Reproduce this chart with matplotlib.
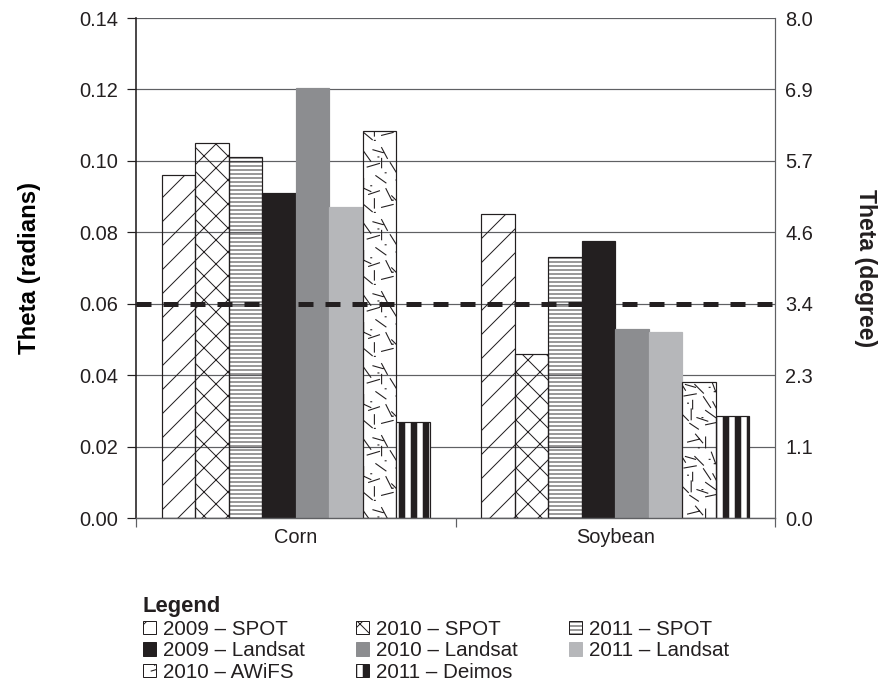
import warnings
import numpy as np
import matplotlib
matplotlib.use("Agg")
import matplotlib.pyplot as plt
import matplotlib.hatch as mhatch
from matplotlib.path import Path
from matplotlib.ticker import FixedLocator, FormatStrFormatter

warnings.filterwarnings("ignore", category=matplotlib.MatplotlibDeprecationWarning)

# ---------------------------------------------------------------- data
crops = ["Corn", "Soybean"]
series = ["2009 – SPOT", "2010 – SPOT", "2011 – SPOT",
          "2009 – Landsat", "2010 – Landsat", "2011 – Landsat",
          "2010 – AWiFS", "2011 – Deimos"]
spot_2009 = [0.096, 0.085]
spot_2010 = [0.105, 0.046]
spot_2011 = [0.101, 0.073]
landsat_2009 = [0.091, 0.0775]
landsat_2010 = [0.1205, 0.053]
landsat_2011 = [0.087, 0.052]
awifs_2010 = [0.1085, 0.038]
deimos_2011 = [0.027, 0.0285]
threshold = 0.06
radian_ticks = [0.00, 0.02, 0.04, 0.06, 0.08, 0.10, 0.12, 0.14]

values = [spot_2009, spot_2010, spot_2011, landsat_2009,
          landsat_2010, landsat_2011, awifs_2010, deimos_2011]


# ------------------------------------------- speckled texture as a hatch
# short strokes (x, y, dx, dy) inside one hatch tile, plus a few dots
SPECKLE_STROKES = [
    (0.05, 0.90, 0.10, -0.14), (0.30, 0.95, 0.08, -0.15),
    (0.55, 0.86, 0.16, 0.04), (0.80, 0.93, 0.00, -0.15),
    (0.10, 0.68, 0.17, 0.05), (0.42, 0.74, 0.10, -0.16),
    (0.65, 0.66, 0.12, -0.12), (0.88, 0.72, 0.06, -0.16),
    (0.05, 0.52, 0.00, -0.14), (0.22, 0.56, 0.14, -0.10),
    (0.50, 0.50, 0.17, 0.03), (0.77, 0.49, 0.10, -0.15),
    (0.12, 0.30, 0.15, 0.05), (0.36, 0.38, 0.08, -0.16),
    (0.60, 0.32, 0.00, -0.15), (0.80, 0.30, 0.14, -0.10),
    (0.05, 0.16, 0.12, -0.10), (0.30, 0.12, 0.16, 0.04),
    (0.58, 0.12, 0.12, -0.08), (0.80, 0.10, 0.14, 0.03),
    (0.18, 0.92, 0.14, -0.04), (0.66, 0.97, 0.10, -0.12),
    (0.30, 0.80, 0.00, -0.13), (0.52, 0.66, 0.14, -0.04),
    (0.02, 0.40, 0.13, -0.06), (0.62, 0.44, 0.00, -0.12),
    (0.44, 0.28, 0.12, -0.12), (0.90, 0.42, 0.07, -0.13),
    (0.20, 0.24, 0.00, -0.13), (0.68, 0.20, 0.15, -0.05),
    (0.25, 0.82, 0.012, 0.0), (0.70, 0.78, 0.012, 0.0),
    (0.35, 0.60, 0.012, 0.0), (0.92, 0.56, 0.012, 0.0),
    (0.15, 0.42, 0.012, 0.0), (0.55, 0.40, 0.012, 0.0),
    (0.45, 0.22, 0.012, 0.0), (0.75, 0.20, 0.012, 0.0),
    (0.20, 0.05, 0.012, 0.0), (0.85, 0.62, 0.012, 0.0),
]


class SpeckleHatch(mhatch.HatchPatternBase):
    def __init__(self, hatch, density):
        self.num_vertices = 2 * len(SPECKLE_STROKES) if 'r' in hatch else 0

    def set_vertices_and_codes(self, vertices, codes):
        s = np.asarray(SPECKLE_STROKES, dtype=float)
        vertices[0::2] = s[:, :2]
        vertices[1::2] = s[:, :2] + s[:, 2:]
        codes[0::2] = Path.MOVETO
        codes[1::2] = Path.LINETO


mhatch._hatch_types.append(SpeckleHatch)

# ---------------------------------------------------------------- styles
INK = "#231f20"
GRID = "#5f6063"
styles = [
    dict(facecolor="none", edgecolor=INK, hatch="/", hlw=1.0),
    dict(facecolor="none", edgecolor=INK, hatch="x", hlw=1.0),
    dict(facecolor="none", edgecolor=INK, hatch="---", hlw=0.9),
    dict(facecolor=INK, edgecolor=INK, hatch=None, hlw=1.0),
    dict(facecolor="#8c8d90", edgecolor="#8c8d90", hatch=None, hlw=1.0),
    dict(facecolor="#b6b7ba", edgecolor="#b6b7ba", hatch=None, hlw=1.0),
    dict(facecolor="none", edgecolor=INK, hatch="r", hlw=1.1),
    dict(facecolor="white", edgecolor=INK, hatch="|", hlw=6.5),
]

plt.rcParams["font.family"] = ["Liberation Sans", "DejaVu Sans"]
plt.rcParams["text.color"] = INK

fig = plt.figure(figsize=(881 / 72, 686 / 72), dpi=72)
ax = fig.add_axes([136 / 881, 1 - 518 / 686, 639 / 881, 500 / 686])

x = np.arange(len(crops))
width = 0.105
containers = []
for i, (name, vals, st) in enumerate(zip(series, values, styles)):
    with plt.rc_context({"hatch.linewidth": st["hlw"]}):
        bc = ax.bar(x + (i - 3.5) * width, vals, width,
                    facecolor=st["facecolor"], edgecolor=st["edgecolor"],
                    hatch=st["hatch"], linewidth=1.2, label=name, zorder=2)
    for p in bc.patches:
        if hasattr(p, "set_hatch_linewidth"):
            p.set_hatch_linewidth(st["hlw"])
    containers.append(bc)

ax.axhline(threshold, color=INK, linewidth=5, dashes=(3.0, 2.4), zorder=4)

ax.set_xlim(-0.5, 1.5)
ax.set_ylim(0, 0.14)
ax.yaxis.set_major_locator(FixedLocator(radian_ticks))
ax.yaxis.set_major_formatter(FormatStrFormatter("%.2f"))
ax.grid(axis="y", color=GRID, linewidth=1.2, zorder=0)
ax.set_axisbelow(True)

ax.set_xticks(x)
ax.set_xticklabels(crops)
ax.set_xticks([-0.5, 0.5, 1.5], minor=True)
ax.tick_params(axis="x", which="major", length=0, pad=10, labelsize=20,
               labelcolor=INK)
ax.tick_params(axis="x", which="minor", length=9, width=1.2, color=GRID)
ax.tick_params(axis="y", which="major", length=9, width=1.2, pad=9,
               labelsize=20, labelcolor=INK, color=INK)

for side in ("top", "right"):
    ax.spines[side].set_visible(False)
ax.spines["left"].set_color(INK)
ax.spines["left"].set_linewidth(1.6)
ax.spines["bottom"].set_color(GRID)
ax.spines["bottom"].set_linewidth(1.4)

sec = ax.secondary_yaxis("right", functions=(np.degrees, np.radians))
sec.yaxis.set_major_locator(FixedLocator(np.degrees(radian_ticks)))
sec.yaxis.set_major_formatter(FormatStrFormatter("%.1f"))
sec.tick_params(length=0, pad=10, labelsize=20, labelcolor=INK)
sec.spines["right"].set_color(GRID)
sec.spines["right"].set_linewidth(1.2)

ax.set_ylabel("Theta (radians)", fontsize=24, fontweight="bold",
              rotation=90, ha="center", va="center")
ax.yaxis.set_label_coords((30 - 136) / 639, 0.5)
fig.text(866 / 881, 1 - 268 / 686, "Theta (degree)", fontsize=23,
         fontweight="bold", rotation=-90, ha="center", va="center")

# legend: filled column by column -> rows read across by year
order = [0, 3, 6, 1, 4, 7, 2, 5]
leg = fig.legend([containers[k] for k in order], [series[k] for k in order],
                 ncol=3, loc="upper left",
                 bbox_to_anchor=(143 / 881, 1 - 596 / 686),
                 frameon=False, fontsize=20.5, title="Legend",
                 title_fontproperties={"weight": "bold", "size": 22},
                 alignment="left", borderpad=0, borderaxespad=0,
                 handlelength=0.63, handleheight=0.63, handletextpad=0.35,
                 columnspacing=2.5, labelspacing=0.13)
for k, h in zip(order, leg.legend_handles):
    if hasattr(h, "set_hatch_linewidth"):
        h.set_hatch_linewidth(styles[k]["hlw"])
    h.set_linewidth(1.0)

fig.savefig("out.png", dpi=72)
